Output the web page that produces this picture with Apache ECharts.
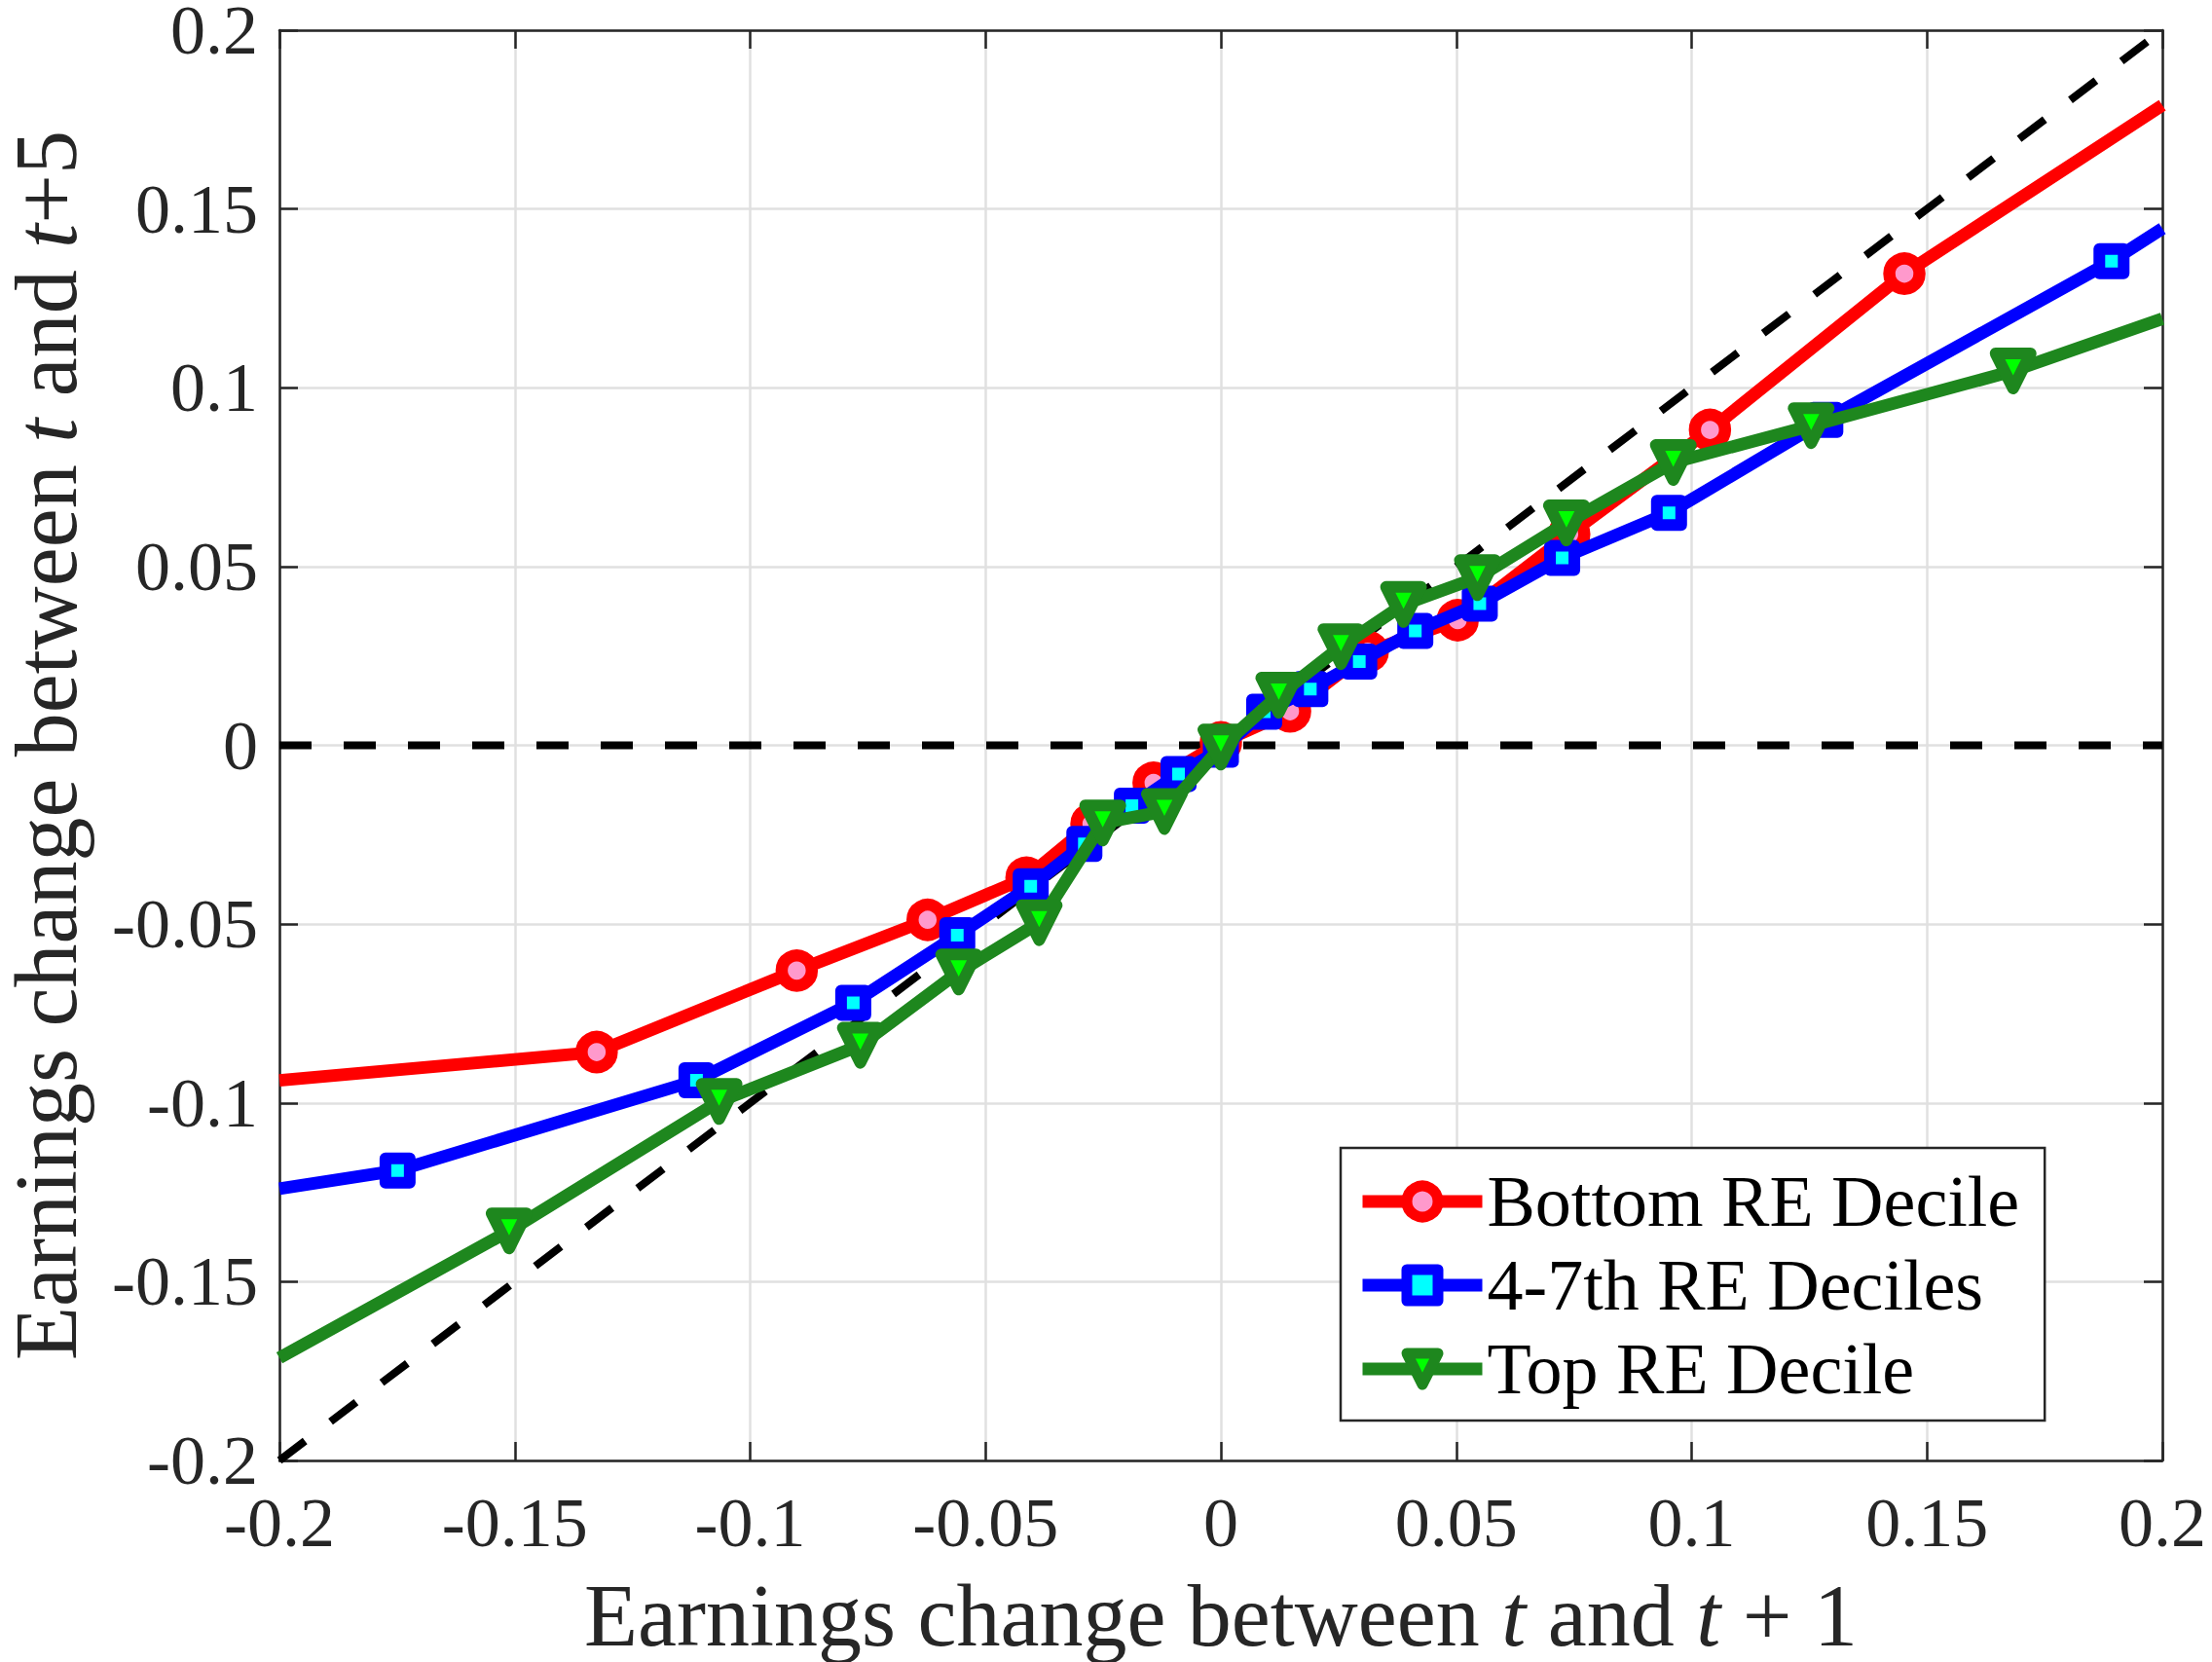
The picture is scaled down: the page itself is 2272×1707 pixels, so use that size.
<!DOCTYPE html>
<html>
<head>
<meta charset="utf-8">
<script src="https://cdn.jsdelivr.net/npm/echarts@6/dist/echarts.min.js"></script>
<style>
html,body{margin:0;padding:0;background:#fff;}
#chart{width:2272px;height:1707px;}
</style>
</head>
<body>
<div id="chart"></div>
<script>
// ---- data ----
// first/last entries of each series are where the line leaves the axes box (no marker)
const xTicks = [-0.2, -0.15, -0.1, -0.05, 0, 0.05, 0.1, 0.15, 0.2];
const yTicks = [-0.2, -0.15, -0.1, -0.05, 0, 0.05, 0.1, 0.15, 0.2];

const seriesNames = ['Bottom RE Decile', '4-7th RE Deciles', 'Top RE Decile'];

const xBottom = [-0.2, -0.1326, -0.0901, -0.0623, -0.0413, -0.0275, -0.0143, 0.0, 0.0147, 0.0312, 0.0503, 0.0740, 0.1039, 0.1452, 0.2];
const yBottom = [-0.0937, -0.0858, -0.0630, -0.0488, -0.0370, -0.0220, -0.0105, 0.0008, 0.0095, 0.0262, 0.0350, 0.0590, 0.0882, 0.1319, 0.1790];

const xMid = [-0.2, -0.1749, -0.1114, -0.0781, -0.0560, -0.0404, -0.0290, -0.0189, -0.0090, 0.0, 0.0092, 0.0190, 0.0294, 0.0413, 0.0550, 0.0725, 0.0952, 0.1284, 0.1892, 0.2];
const yMid = [-0.1240, -0.1189, -0.0937, -0.0720, -0.0531, -0.0394, -0.0276, -0.0169, -0.0080, -0.0012, 0.0094, 0.0157, 0.0234, 0.0320, 0.0396, 0.0524, 0.0650, 0.0910, 0.1354, 0.1445];

const xTop = [-0.2, -0.1512, -0.1066, -0.0766, -0.0557, -0.0386, -0.0251, -0.0120, 0.0, 0.0123, 0.0255, 0.0388, 0.0545, 0.0734, 0.0961, 0.1254, 0.1683, 0.2];
const yTop = [-0.1713, -0.1358, -0.0996, -0.0839, -0.0634, -0.0496, -0.0217, -0.0185, -0.0005, 0.0140, 0.0276, 0.0394, 0.0469, 0.0622, 0.0791, 0.0894, 0.1047, 0.1193];

// reference lines: 45-degree line and zero line
const diagX = [-0.2, 0.2];
const diagY = [-0.2, 0.2];
const zeroX = [-0.2, 0.2];
const zeroY = [0, 0];

// ---- build ----
function pts(xs, ys) {
  return xs.map((x, i) => {
    const edge = (i === 0 || i === xs.length - 1);
    return edge ? { value: [x, ys[i]], symbol: 'none' } : [x, ys[i]];
  });
}
function plain(xs, ys) { return xs.map((x, i) => [x, ys[i]]); }

const FONT = 'Liberation Serif';
const TXT = '#262626';
const fmt = v => String(+v.toFixed(2));

const chart = echarts.init(document.getElementById('chart'), null, { renderer: 'svg' });

const axisCommon = {
  type: 'value', min: -0.2, max: 0.2, interval: 0.05,
  axisLine: { show: true, onZero: false, lineStyle: { color: TXT, width: 2.5 } },
  axisTick: { show: true, inside: true, length: 19, lineStyle: { color: TXT, width: 2.5 } },
  splitLine: { show: true, lineStyle: { color: '#e0e0e0', width: 2.5 } },
};

const colors = {
  bottom: { line: '#ff0000', fill: '#ff99cc' },
  mid: { line: '#0000ff', fill: '#00ffff' },
  top: { line: '#1e871e', fill: '#00ff00' }
};

const option = {
  backgroundColor: '#ffffff',
  animation: false,
  textStyle: { fontFamily: FONT },
  grid: { left: 287, right: 51, top: 31, bottom: 207, containLabel: false, outerBoundsMode: 'none' },
  xAxis: [
    Object.assign({}, axisCommon, {
      position: 'bottom',
      axisLabel: { show: true, margin: 34, color: TXT, fontFamily: FONT, fontSize: 72, lineHeight: 60, formatter: fmt },
      name: 'Earnings change between {i|t} and {i|t} + 1',
      nameLocation: 'middle', nameGap: 114,
      nameTextStyle: {
        color: TXT, fontFamily: FONT, fontSize: 90,
        rich: { i: { fontStyle: 'italic', fontFamily: FONT, fontSize: 90, color: TXT } }
      }
    }),
    Object.assign({}, axisCommon, {
      position: 'top', axisLabel: { show: false }, splitLine: { show: false }
    })
  ],
  yAxis: [
    Object.assign({}, axisCommon, {
      position: 'left',
      axisLabel: { show: true, margin: 22, color: TXT, fontFamily: FONT, fontSize: 72, lineHeight: 56, formatter: fmt },
      name: 'Earnings change between {i|t} and {i|t}+5',
      nameLocation: 'middle', nameGap: 205, nameRotate: 90,
      nameTextStyle: {
        color: TXT, fontFamily: FONT, fontSize: 90, lineHeight: 70,
        rich: { i: { fontStyle: 'italic', fontFamily: FONT, fontSize: 90, lineHeight: 70, color: TXT } }
      }
    }),
    Object.assign({}, axisCommon, {
      position: 'right', axisLabel: { show: false }, splitLine: { show: false }
    })
  ],
  legend: {
    orient: 'vertical',
    left: 1377, top: 1179,
    padding: [18, 26, 16, 16],
    itemGap: 12,
    itemWidth: 123, itemHeight: 40,
    backgroundColor: '#ffffff',
    borderColor: TXT, borderWidth: 2.5, borderRadius: 0,
    textStyle: { color: '#000', fontFamily: FONT, fontSize: 74 },
    data: [
      { name: seriesNames[0], lineStyle: { width: 13, color: colors.bottom.line },
        itemStyle: { color: colors.bottom.fill, borderColor: colors.bottom.line, borderWidth: 11 } },
      { name: seriesNames[1], lineStyle: { width: 13, color: colors.mid.line },
        itemStyle: { color: colors.mid.fill, borderColor: colors.mid.line, borderWidth: 11 } },
      { name: seriesNames[2], lineStyle: { width: 13, color: colors.top.line },
        itemStyle: { color: colors.top.fill, borderColor: colors.top.line, borderWidth: 11 } }
    ]
  },
  series: [
    {
      type: 'line', name: 'diag', data: plain(diagX, diagY), symbol: 'none', z: 1,
      lineStyle: { color: '#000', width: 8, type: [33, 33] }, silent: true
    },
    {
      type: 'line', name: 'zero', data: plain(zeroX, zeroY), symbol: 'none', z: 1,
      lineStyle: { color: '#000', width: 8, type: [33, 33] }, silent: true
    },
    {
      type: 'line', name: seriesNames[0], data: pts(xBottom, yBottom), z: 2,
      symbol: 'circle', symbolSize: 31,
      lineStyle: { color: colors.bottom.line, width: 13 },
      itemStyle: { color: colors.bottom.fill, borderColor: colors.bottom.line, borderWidth: 12.5 }
    },
    {
      type: 'line', name: seriesNames[1], data: pts(xMid, yMid), z: 3,
      symbol: 'rect', symbolSize: 25,
      lineStyle: { color: colors.mid.line, width: 13 },
      itemStyle: { color: colors.mid.fill, borderColor: colors.mid.line, borderWidth: 12, borderJoin: 'round' }
    },
    {
      type: 'line', name: seriesNames[2], data: pts(xTop, yTop), z: 4,
      symbol: 'triangle', symbolRotate: 180, symbolSize: 36,
      lineStyle: { color: colors.top.line, width: 13 },
      itemStyle: { color: colors.top.fill, borderColor: colors.top.line, borderWidth: 12, borderJoin: 'round' }
    }
  ]
};
chart.setOption(option);
</script>
</body>
</html>
